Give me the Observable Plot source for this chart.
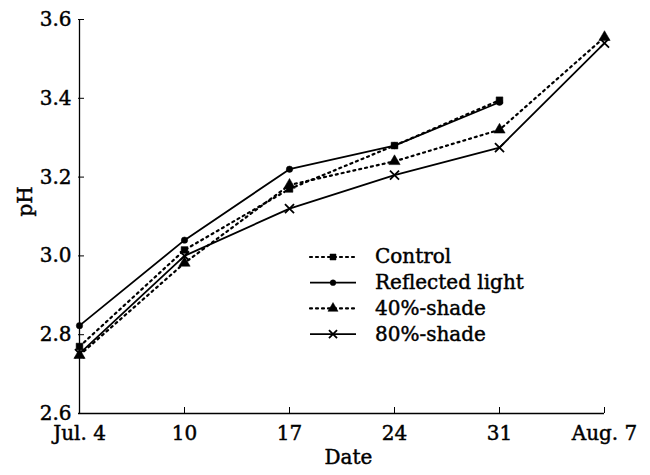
<!DOCTYPE html>
<html>
<head>
<meta charset="utf-8">
<script src="https://cdn.jsdelivr.net/npm/d3@7"></script>
<script src="https://cdn.jsdelivr.net/npm/@observablehq/plot@0.6"></script>
<style>
  html, body { margin: 0; padding: 0; background: #fff; }
  #wrap { position: relative; width: 650px; height: 475px; }
  #wrap svg { position: absolute; left: 0; top: 0; }
  #wrap svg text { font-family: "DejaVu Serif", "Liberation Serif", serif; stroke: black; stroke-width: 0.45px; }
</style>
</head>
<body>
<div id="wrap"></div>
<script>
// ---- data ----
const dates = ["Jul. 4", "10", "17", "24", "31", "Aug. 7"];
const control   = [2.77, 3.015, 3.17, 3.28, 3.395, null];
const reflected = [2.823, 3.04, 3.22, 3.28, 3.39, null];
const shade40   = [2.748, 2.982, 3.18, 3.24, 3.32, 3.555];
const shade80   = [2.752, 3.0, 3.12, 3.205, 3.275, 3.54];
const yTicks = [2.6, 2.8, 3.0, 3.2, 3.4, 3.6];
const seriesNames = ["Control", "Reflected light", "40%-shade", "80%-shade"];

const seriesValues = [control, reflected, shade40, shade80];
const styles = [
  {dash: "2,4", symbol: "square", r: 3.8},
  {dash: null, symbol: "circle", r: 3.2},
  {dash: "2,4", symbol: "triangle", r: 4.2},
  {dash: null, symbol: "times", r: 4.2}
];

const rows = [];
seriesNames.forEach((name, i) => {
  dates.forEach((d, j) => {
    const v = seriesValues[i][j];
    if (v != null) rows.push({series: name, date: d, ph: v});
  });
});

const font = '"DejaVu Serif", "Liberation Serif", serif';
const marks = [
  Plot.ruleX([dates[0]], {stroke: "black", strokeWidth: 1.3}),
  Plot.ruleY([yTicks[0]], {stroke: "black", strokeWidth: 1.3}),
  Plot.axisY({ticks: yTicks, tickSize: -6, tickPadding: 13, tickFormat: d3.format(".1f"), label: null, fontSize: 20}),
  Plot.axisX({tickSize: -6, tickPadding: 18, label: null, fontSize: 20}),
  Plot.text(["pH"], {frameAnchor: "left", rotate: -90, dx: -53, fontSize: 20}),
  Plot.text(["Date"], {frameAnchor: "bottom", dy: 50, dx: 7, fontSize: 20})
];
seriesNames.forEach((name, i) => {
  const data = rows.filter(r => r.series === name);
  const st = styles[i];
  marks.push(Plot.line(data, {x: "date", y: "ph", stroke: "black", strokeWidth: st.dash ? 2.2 : 1.8,
    strokeDasharray: st.dash, strokeLinecap: st.dash ? "round" : "butt"}));
  const isStroke = st.symbol === "times";
  marks.push(Plot.dot(data, {x: "date", y: "ph", symbol: () => st.symbol, r: st.r,
    fill: isStroke ? "none" : "black", stroke: "black", strokeWidth: isStroke ? 1.8 : 0.5}));
});

const chart = Plot.plot({
  width: 650,
  height: 475,
  marginLeft: 78,
  marginRight: 46,
  marginTop: 19,
  marginBottom: 62,
  style: {fontFamily: font, fontSize: "20px", color: "black", background: "white"},
  x: {type: "point", domain: dates, padding: 0},
  y: {domain: [2.6, 3.6]},
  symbol: {type: "identity"},
  marks
});
document.getElementById("wrap").appendChild(chart);

// ---- legend overlay ----
const legend = d3.select("#wrap").append("svg")
  .attr("width", 650).attr("height", 475)
  .style("font-family", font).style("font-size", "20px");
const symMap = {square: d3.symbolSquare, circle: d3.symbolCircle, triangle: d3.symbolTriangle, times: d3.symbolTimes};
const lx0 = 310, lx1 = 356, ltx = 375, ly0 = 257, lstep = 25.7;
seriesNames.forEach((name, i) => {
  const st = styles[i];
  const y = ly0 + i * lstep;
  const g = legend.append("g");
  g.append("line").attr("x1", lx0).attr("x2", lx1).attr("y1", y).attr("y2", y)
    .attr("stroke", "black").attr("stroke-width", st.dash ? 2.2 : 1.8)
    .attr("stroke-dasharray", st.dash).attr("stroke-linecap", st.dash ? "round" : "butt");
  const isStroke = st.symbol === "times";
  const area = Math.PI * st.r * st.r;
  g.append("path").attr("transform", `translate(${(lx0 + lx1) / 2},${y})`)
    .attr("d", d3.symbol(symMap[st.symbol], area * 0.8)())
    .attr("fill", isStroke ? "none" : "black").attr("stroke", "black").attr("stroke-width", isStroke ? 1.8 : 0.5);
  g.append("text").attr("x", ltx).attr("y", y).attr("dy", "0.32em").text(name);
});
</script>
</body>
</html>
